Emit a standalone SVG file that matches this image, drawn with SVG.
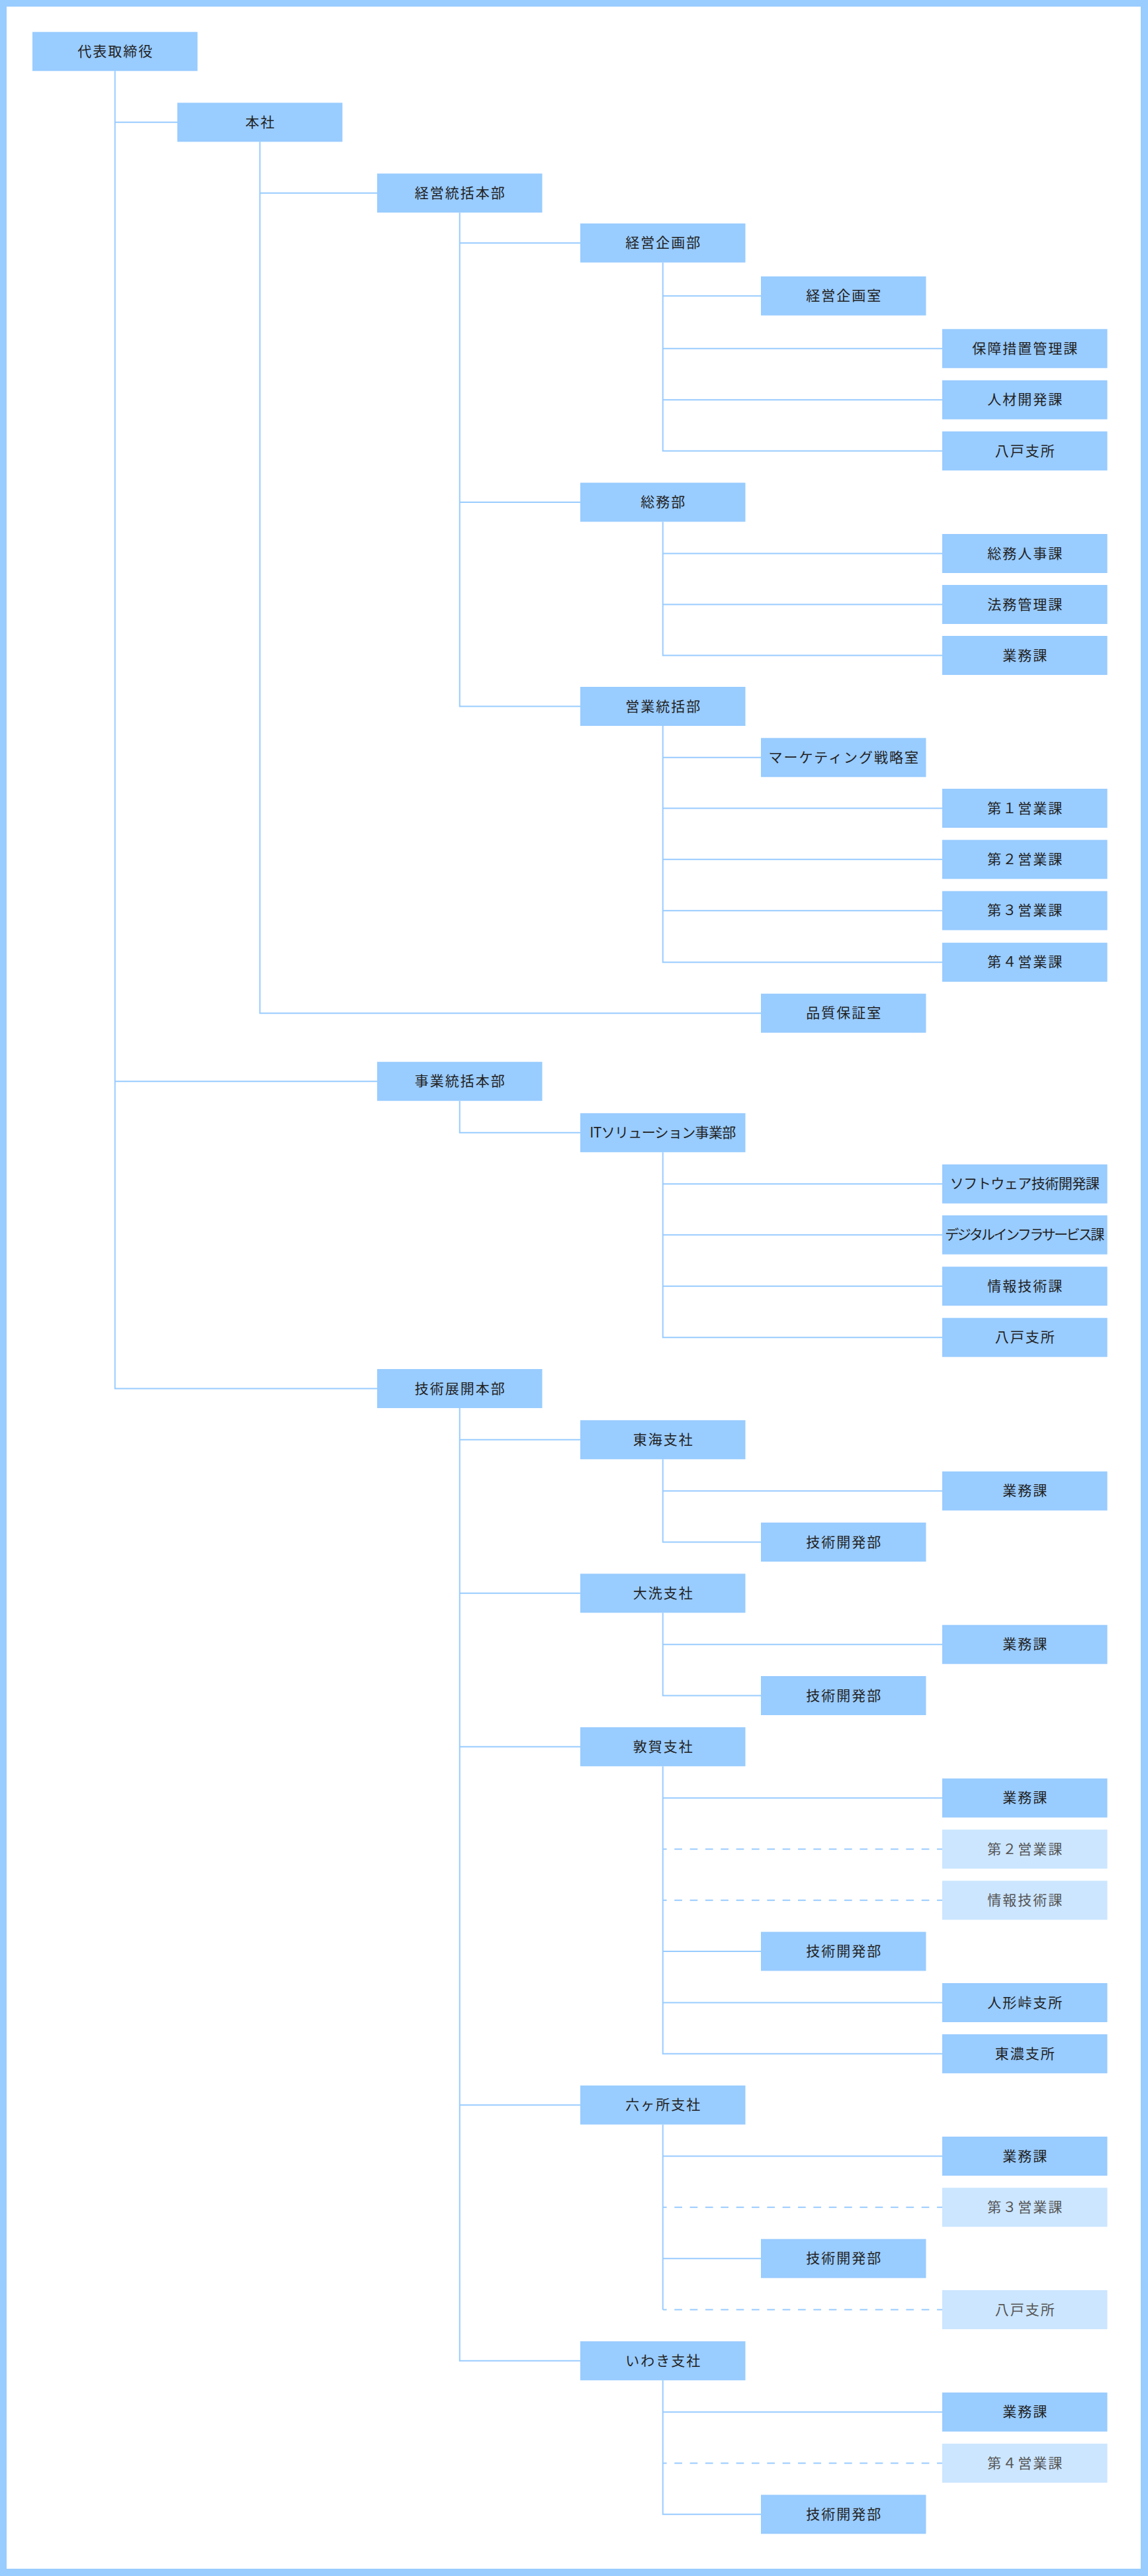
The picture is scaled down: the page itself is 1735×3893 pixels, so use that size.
<svg xmlns="http://www.w3.org/2000/svg" width="1735" height="3893" viewBox="0 0 1735 3893">
<style>
.n rect{fill:#99ccff}
.lt rect{fill:#cce6ff}
text{font-family:"Noto Sans CJK JP","Noto Sans CJK SC",sans-serif;font-size:21px;letter-spacing:2px;text-anchor:middle;fill:#222}
.lt text{fill:#555}
text.fit{letter-spacing:0}
.c path{fill:none;stroke:#99ccff;stroke-width:2}
.c path.d{stroke-dasharray:11.67 11.67;stroke-dashoffset:5.8}
</style>
<rect x="0" y="0" width="1735" height="3893" fill="#99ccff"/>
<rect x="10" y="10" width="1714" height="3872" fill="#ffffff"/>
<g class="c" id="connectors">
<path d="M173.75 107.3V2098.5H570M173.75 184.8H268M173.75 1634.2H570"/>
<path d="M392.75 214.3V1531.2H1150M392.75 291.8H570"/>
<path d="M694.75 321.3V1067.5H877M694.75 367.2H877M694.75 759H877"/>
<path d="M1001.75 396.7V681.5H1424M1001.75 447.2H1150M1001.75 526.8H1424M1001.75 604.2H1424"/>
<path d="M1001.75 788.5V990.5H1424M1001.75 836.5H1424M1001.75 913.5H1424"/>
<path d="M1001.75 1097V1454.2H1424M1001.75 1144.8H1150M1001.75 1221.5H1424M1001.75 1298.8H1424M1001.75 1376.2H1424"/>
<path d="M694.75 1663.7V1711.8H877"/>
<path d="M1001.75 1741.3V2021.2H1424M1001.75 1789.2H1424M1001.75 1866.2H1424M1001.75 1943.8H1424"/>
<path d="M694.75 2128V3567.8H877M694.75 2175.8H877M694.75 2407.8H877M694.75 2639.8H877M694.75 3181.2H877"/>
<path d="M1001.75 2205.3V2330.5H1150M1001.75 2253.2H1424"/>
<path d="M1001.75 2437.3V2562.5H1150M1001.75 2485.2H1424"/>
<path d="M1001.75 2669.3V3103.8H1424M1001.75 2717.2H1424M1001.75 2949H1150M1001.75 3026.5H1424"/>
<path class="d" d="M1001.75 2794.5H1424"/>
<path class="d" d="M1001.75 2871.8H1424"/>
<path d="M1001.75 3210.7V3490.5M1001.75 3258.5H1424M1001.75 3413.2H1150"/>
<path class="d" d="M1001.75 3335.8H1424"/>
<path class="d" d="M1001.75 3490.5H1424"/>
<path d="M1001.75 3597.3V3799.8H1150M1001.75 3645.2H1424"/>
<path class="d" d="M1001.75 3722.5H1424"/>
</g>
<g class="n" id="n1"><rect x="49" y="48.3" width="249.5" height="59"/><text x="174.75" y="84.8">代表取締役</text></g>
<g class="n" id="n2"><rect x="268" y="155.3" width="249.5" height="59"/><text x="393.75" y="191.8">本社</text></g>
<g class="n" id="n3"><rect x="570" y="262.3" width="249.5" height="59"/><text x="695.75" y="298.8">経営統括本部</text></g>
<g class="n" id="n4"><rect x="877" y="337.7" width="249.5" height="59"/><text x="1002.75" y="374.2">経営企画部</text></g>
<g class="n" id="n5"><rect x="1150" y="417.7" width="249.5" height="59"/><text x="1275.75" y="454.2">経営企画室</text></g>
<g class="n" id="n6"><rect x="1424" y="497.3" width="249.5" height="59"/><text x="1549.75" y="533.8">保障措置管理課</text></g>
<g class="n" id="n7"><rect x="1424" y="574.7" width="249.5" height="59"/><text x="1549.75" y="611.2">人材開発課</text></g>
<g class="n" id="n8"><rect x="1424" y="652" width="249.5" height="59"/><text x="1549.75" y="688.5">八戸支所</text></g>
<g class="n" id="n9"><rect x="877" y="729.5" width="249.5" height="59"/><text x="1002.75" y="766">総務部</text></g>
<g class="n" id="n10"><rect x="1424" y="807" width="249.5" height="59"/><text x="1549.75" y="843.5">総務人事課</text></g>
<g class="n" id="n11"><rect x="1424" y="884" width="249.5" height="59"/><text x="1549.75" y="920.5">法務管理課</text></g>
<g class="n" id="n12"><rect x="1424" y="961" width="249.5" height="59"/><text x="1549.75" y="997.5">業務課</text></g>
<g class="n" id="n13"><rect x="877" y="1038" width="249.5" height="59"/><text x="1002.75" y="1074.5">営業統括部</text></g>
<g class="n" id="n14"><rect x="1150" y="1115.3" width="249.5" height="59"/><text x="1275.75" y="1151.8">マーケティング戦略室</text></g>
<g class="n" id="n15"><rect x="1424" y="1192" width="249.5" height="59"/><text x="1549.75" y="1228.5">第１営業課</text></g>
<g class="n" id="n16"><rect x="1424" y="1269.3" width="249.5" height="59"/><text x="1549.75" y="1305.8">第２営業課</text></g>
<g class="n" id="n17"><rect x="1424" y="1346.7" width="249.5" height="59"/><text x="1549.75" y="1383.2">第３営業課</text></g>
<g class="n" id="n18"><rect x="1424" y="1424.7" width="249.5" height="59"/><text x="1549.75" y="1461.2">第４営業課</text></g>
<g class="n" id="n19"><rect x="1150" y="1501.7" width="249.5" height="59"/><text x="1275.75" y="1538.2">品質保証室</text></g>
<g class="n" id="n20"><rect x="570" y="1604.7" width="249.5" height="59"/><text x="695.75" y="1641.2">事業統括本部</text></g>
<g class="n" id="n21"><rect x="877" y="1682.3" width="249.5" height="59"/><text class="fit" x="1001.75" y="1718.8" textLength="221" lengthAdjust="spacing">ITソリューション事業部</text></g>
<g class="n" id="n22"><rect x="1424" y="1759.7" width="249.5" height="59"/><text class="fit" x="1548.75" y="1796.2" textLength="226" lengthAdjust="spacing">ソフトウェア技術開発課</text></g>
<g class="n" id="n23"><rect x="1424" y="1836.7" width="249.5" height="59"/><text class="fit" x="1548.75" y="1873.2" textLength="241" lengthAdjust="spacing">デジタルインフラサービス課</text></g>
<g class="n" id="n24"><rect x="1424" y="1914.3" width="249.5" height="59"/><text x="1549.75" y="1950.8">情報技術課</text></g>
<g class="n" id="n25"><rect x="1424" y="1991.7" width="249.5" height="59"/><text x="1549.75" y="2028.2">八戸支所</text></g>
<g class="n" id="n26"><rect x="570" y="2069" width="249.5" height="59"/><text x="695.75" y="2105.5">技術展開本部</text></g>
<g class="n" id="n27"><rect x="877" y="2146.3" width="249.5" height="59"/><text x="1002.75" y="2182.8">東海支社</text></g>
<g class="n" id="n28"><rect x="1424" y="2223.7" width="249.5" height="59"/><text x="1549.75" y="2260.2">業務課</text></g>
<g class="n" id="n29"><rect x="1150" y="2301" width="249.5" height="59"/><text x="1275.75" y="2337.5">技術開発部</text></g>
<g class="n" id="n30"><rect x="877" y="2378.3" width="249.5" height="59"/><text x="1002.75" y="2414.8">大洗支社</text></g>
<g class="n" id="n31"><rect x="1424" y="2455.7" width="249.5" height="59"/><text x="1549.75" y="2492.2">業務課</text></g>
<g class="n" id="n32"><rect x="1150" y="2533" width="249.5" height="59"/><text x="1275.75" y="2569.5">技術開発部</text></g>
<g class="n" id="n33"><rect x="877" y="2610.3" width="249.5" height="59"/><text x="1002.75" y="2646.8">敦賀支社</text></g>
<g class="n" id="n34"><rect x="1424" y="2687.7" width="249.5" height="59"/><text x="1549.75" y="2724.2">業務課</text></g>
<g class="lt" id="n35"><rect x="1424" y="2765" width="249.5" height="59"/><text x="1549.75" y="2801.5">第２営業課</text></g>
<g class="lt" id="n36"><rect x="1424" y="2842.3" width="249.5" height="59"/><text x="1549.75" y="2878.8">情報技術課</text></g>
<g class="n" id="n37"><rect x="1150" y="2919.5" width="249.5" height="59"/><text x="1275.75" y="2956">技術開発部</text></g>
<g class="n" id="n38"><rect x="1424" y="2997" width="249.5" height="59"/><text x="1549.75" y="3033.5">人形峠支所</text></g>
<g class="n" id="n39"><rect x="1424" y="3074.3" width="249.5" height="59"/><text x="1549.75" y="3110.8">東濃支所</text></g>
<g class="n" id="n40"><rect x="877" y="3151.7" width="249.5" height="59"/><text x="1002.75" y="3188.2">六ヶ所支社</text></g>
<g class="n" id="n41"><rect x="1424" y="3229" width="249.5" height="59"/><text x="1549.75" y="3265.5">業務課</text></g>
<g class="lt" id="n42"><rect x="1424" y="3306.3" width="249.5" height="59"/><text x="1549.75" y="3342.8">第３営業課</text></g>
<g class="n" id="n43"><rect x="1150" y="3383.7" width="249.5" height="59"/><text x="1275.75" y="3420.2">技術開発部</text></g>
<g class="lt" id="n44"><rect x="1424" y="3461" width="249.5" height="59"/><text x="1549.75" y="3497.5">八戸支所</text></g>
<g class="n" id="n45"><rect x="877" y="3538.3" width="249.5" height="59"/><text x="1002.75" y="3574.8">いわき支社</text></g>
<g class="n" id="n46"><rect x="1424" y="3615.7" width="249.5" height="59"/><text x="1549.75" y="3652.2">業務課</text></g>
<g class="lt" id="n47"><rect x="1424" y="3693" width="249.5" height="59"/><text x="1549.75" y="3729.5">第４営業課</text></g>
<g class="n" id="n48"><rect x="1150" y="3770.3" width="249.5" height="59"/><text x="1275.75" y="3806.8">技術開発部</text></g>
</svg>
